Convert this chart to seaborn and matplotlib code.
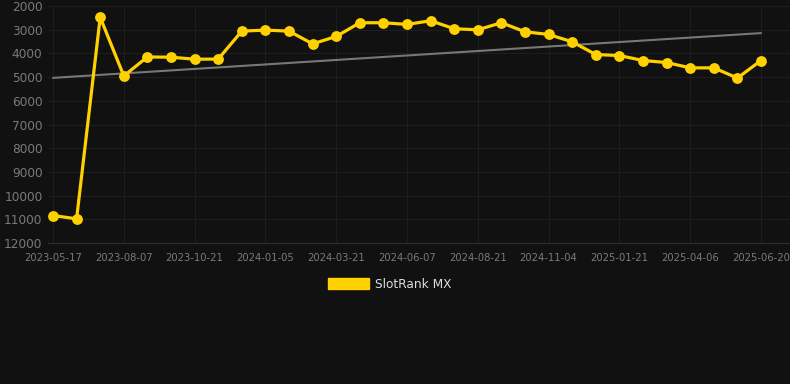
import numpy as np
import pandas as pd
import seaborn as sns
import matplotlib
matplotlib.use("Agg")
import matplotlib.pyplot as plt
from matplotlib.patches import Patch

dates = ["2023-05-17", "2023-06-13", "2023-07-10", "2023-08-07", "2023-09-01",
         "2023-09-26", "2023-10-21", "2023-11-15", "2023-12-10", "2024-01-05",
         "2024-01-31", "2024-02-25", "2024-03-21", "2024-04-15", "2024-05-11",
         "2024-06-07", "2024-07-02", "2024-07-27", "2024-08-21", "2024-09-15",
         "2024-10-10", "2024-11-04", "2024-11-30", "2024-12-26", "2025-01-21",
         "2025-02-15", "2025-03-12", "2025-04-06", "2025-05-01", "2025-05-26",
         "2025-06-20"]
ranks = [10840, 10980, 2480, 4950, 4150, 4160, 4245, 4240, 3060, 3017,
         3060, 3597, 3285, 2706, 2706, 2777, 2622, 2960, 3004, 2706,
         3088, 3200, 3512, 4048, 4090, 4300, 4385, 4610, 4610, 5040,
         4300]
y_ticks = [2000, 3000, 4000, 5000, 6000, 7000, 8000, 9000, 10000, 11000, 12000]
series_name = "SlotRank MX"

BG = "#111111"
YELLOW = "#FFD100"
GRID = "#1e1e1e"
TICK = "#7a7a7a"

sns.set_theme(style="dark")
plt.rcParams["font.family"] = ["DejaVu Sans"]

df = pd.DataFrame({"idx": np.arange(len(dates)), "date": dates, "rank": ranks})

fig = plt.figure(figsize=(7.9, 3.84), dpi=100, facecolor=BG)
W, H = 790, 384
left, right, top, bottom = 48, 790, 6, 243
ax = fig.add_axes([left / W, 1 - bottom / H, (right - left) / W, (bottom - top) / H])
ax.set_facecolor(BG)

sns.regplot(data=df, x="idx", y="rank", scatter=False, ci=None, ax=ax,
            line_kws=dict(color="#777777", lw=1.5, zorder=2))
sns.lineplot(data=df, x="idx", y="rank", ax=ax, color=YELLOW, lw=2.3,
             marker="o", markersize=7.8, markeredgewidth=0, zorder=3)

step = 23.6
ax.set_xlim(-5 / step, 30 + 29 / step)
ax.set_ylim(12000, 2000)
ax.set_yticks(y_ticks)
ax.set_yticklabels([str(v) for v in y_ticks])
xt = list(range(0, len(dates), 3))
ax.set_xticks(xt)
ax.set_xticklabels([dates[i] for i in xt])

ax.grid(True, color=GRID, lw=0.8)
for s in ["top", "right", "left"]:
    ax.spines[s].set_visible(False)
ax.spines["bottom"].set_color("#2e2e2e")
ax.spines["bottom"].set_linewidth(0.8)
ax.tick_params(axis="y", colors=TICK, labelsize=8.7, length=0, pad=4)
ax.tick_params(axis="x", colors=TICK, labelsize=7.2, length=4, width=0.8,
               color="#2e2e2e", pad=3)
for lab in ax.get_xticklabels() + ax.get_yticklabels():
    lab.set_color(TICK)
ax.set_xlabel("")
ax.set_ylabel("")

handle = Patch(facecolor=YELLOW, edgecolor=YELLOW, label=series_name)
fig.legend(handles=[handle], loc="center", bbox_to_anchor=(390 / W, 1 - 284 / H),
           frameon=False, fontsize=8.7, labelcolor="#dddddd",
           handlelength=3.4, handleheight=0.95, handletextpad=0.5)

fig.savefig("out.png", dpi=100, facecolor=BG)
